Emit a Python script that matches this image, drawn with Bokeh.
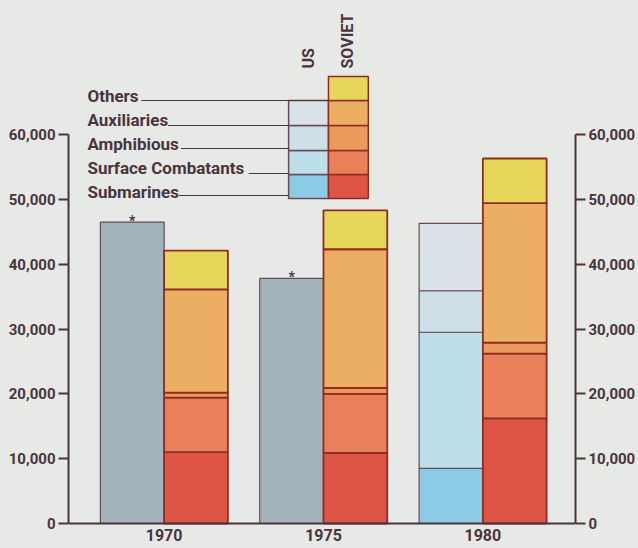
import numpy as np
from bokeh.plotting import figure
from bokeh.models import Range1d, LinearAxis, FixedTicker, NumeralTickFormatter, Span
from bokeh.core.properties import value
from bokeh.embed import file_html
from bokeh.resources import INLINE

# ---------------- data ----------------
years = [1970, 1975, 1980]
year_labels = ["1970", "1975", "1980"]
categories = ["Submarines", "Surface Combatants", "Amphibious", "Auxiliaries", "Others"]
y_ticks = [0, 10000, 20000, 30000, 40000, 50000, 60000]

# US totals shown without breakdown (marked *)
us_undivided = [46500, 37800, 0]
us_submarines = [0, 0, 8500]
us_surface = [0, 0, 21000]
us_amphibious = [0, 0, 6400]
us_auxiliaries = [0, 0, 10400]

soviet_submarines = [11000, 10900, 16200]
soviet_surface = [8400, 9100, 10000]
soviet_amphibious = [800, 900, 1700]
soviet_auxiliaries = [15900, 21400, 21500]
soviet_others = [6000, 6000, 6900]

# ---------------- styles ----------------
FONT = "Roboto"
BG = "#e6e9e5"
INK = "#4a3440"
GRAY = "#a2b3bb"
US_COLORS = ["#8ccbe6", "#bddfea", "#cde0e7", "#d9e3e7"]
SOV_COLORS = ["#df5545", "#e9805a", "#ec9a5c", "#ecae62", "#e8d65a"]
SOV_LINE = "#8e2c22"
US_LINE = "#6a4a5a"

W, H = 638, 548
BL, BR = 68, 61
FW = W - BL - BR
PX_PER_YEAR = 32.0
X0 = 1967.0
X1 = X0 + FW / PX_PER_YEAR
ZERO_PX = 523          # canvas px of value 0
TOP_PX = 134           # canvas px of value 60,000
PPU = (ZERO_PX - TOP_PX) / 60000.0
YMAX = ZERO_PX / PPU
YMIN = -(H - ZERO_PX) / PPU
BAR_W = 2.0


def dx(sx):
    return X0 + (sx - BL) / PX_PER_YEAR


def dy(sy):
    return (ZERO_PX - sy) / PPU


p = figure(width=W, height=H, x_range=Range1d(X0, X1), y_range=Range1d(YMIN, YMAX),
           output_backend="svg", toolbar_location=None,
           min_border_left=BL, min_border_right=BR, min_border_top=0, min_border_bottom=0)
p.background_fill_color = BG
p.border_fill_color = BG
p.outline_line_color = None
p.grid.visible = False

yrs = np.array(years, dtype=float)

# US undivided bars
und = np.array(us_undivided, dtype=float)
m = und > 0
p.quad(left=yrs[m] - BAR_W, right=yrs[m], bottom=0, top=und[m],
       fill_color=GRAY, line_color=US_LINE, line_width=1.2)
p.text(x=yrs[m] - BAR_W / 2, y=und[m], text=["*"] * int(m.sum()),
       text_font=value(FONT), text_font_style="bold", text_font_size="14px",
       text_align="center", text_baseline="alphabetic", y_offset=-1, text_color=INK)

# US stacked
bottom = np.zeros(3)
for vals, col in zip([us_submarines, us_surface, us_amphibious, us_auxiliaries], US_COLORS):
    v = np.array(vals, dtype=float)
    top = bottom + v
    mm = v > 0
    p.quad(left=yrs[mm] - BAR_W, right=yrs[mm], bottom=bottom[mm], top=top[mm],
           fill_color=col, line_color=US_LINE, line_width=1.2)
    bottom = top

# Soviet stacked
bottom = np.zeros(3)
for vals, col in zip([soviet_submarines, soviet_surface, soviet_amphibious,
                      soviet_auxiliaries, soviet_others], SOV_COLORS):
    v = np.array(vals, dtype=float)
    top = bottom + v
    p.quad(left=yrs, right=yrs + BAR_W, bottom=bottom, top=top,
           fill_color=col, line_color=SOV_LINE, line_width=1.8)
    bottom = top

# baseline and year labels
p.add_layout(Span(location=0, dimension="width", line_color=INK, line_width=2))
p.text(x=yrs, y=[0] * 3, text=year_labels, text_font=value(FONT), text_font_style="bold",
       text_font_size="16px", text_align="center", text_baseline="top", y_offset=5,
       text_color=INK)

# ---------------- legend ----------------
row_edges = [198, 174, 150, 125, 100, 76]  # canvas px, bottom of Submarines .. top of Others
us_col = (289, 329)
sov_col = (329, 369)
for i, col in enumerate(US_COLORS):
    p.quad(left=dx(us_col[0]), right=dx(us_col[1]), bottom=dy(row_edges[i]), top=dy(row_edges[i + 1]),
           fill_color=col, line_color=US_LINE, line_width=1.5)
for i, col in enumerate(SOV_COLORS):
    p.quad(left=dx(sov_col[0]), right=dx(sov_col[1]), bottom=dy(row_edges[i]), top=dy(row_edges[i + 1]),
           fill_color=col, line_color=SOV_LINE, line_width=1.5)

label_y = [191, 167, 143, 119, 95]
line_y = [195, 173, 148, 125, 100]
line_x0 = [179, 249, 181, 168, 141]
line_x1 = [289, 289, 289, 289, 329]
p.segment(x0=[dx(v) for v in line_x0], y0=[dy(v) for v in line_y],
          x1=[dx(v) for v in line_x1], y1=[dy(v) for v in line_y],
          line_color=INK, line_width=1)
p.text(x=[dx(87)] * 5, y=[dy(v) for v in label_y], text=categories,
       text_font=value(FONT), text_font_style="bold", text_font_size="17px",
       text_align="left", text_baseline="middle", text_color=INK)
p.text(x=[dx(309), dx(348)], y=[dy(68), dy(68)], text=["US", "SOVIET"], angle=np.pi / 2,
       text_font=value(FONT), text_font_style="bold", text_font_size="16px",
       text_align="left", text_baseline="middle", text_color=INK)


# ---------------- axes ----------------
def style_y(ax):
    ax.ticker = FixedTicker(ticks=y_ticks)
    ax.formatter = NumeralTickFormatter(format="0,0")
    ax.bounds = (0, 60000)
    ax.axis_line_color = INK
    ax.axis_line_width = 2
    ax.major_tick_line_color = INK
    ax.major_tick_line_width = 2
    ax.major_tick_out = 10
    ax.major_tick_in = 0
    ax.minor_tick_line_color = None
    ax.major_label_standoff = 3
    ax.major_label_text_font = FONT
    ax.major_label_text_font_style = "bold"
    ax.major_label_text_font_size = "15px"
    ax.major_label_text_color = INK


style_y(p.yaxis[0])
right_ax = LinearAxis()
style_y(right_ax)
p.add_layout(right_ax, "right")

p.xaxis.visible = False

html = file_html(p, INLINE)
html = html.replace("<head>", "<head><style>html,body{background-color:%s;}</style>" % BG, 1)
open("out.html", "w").write(html)
